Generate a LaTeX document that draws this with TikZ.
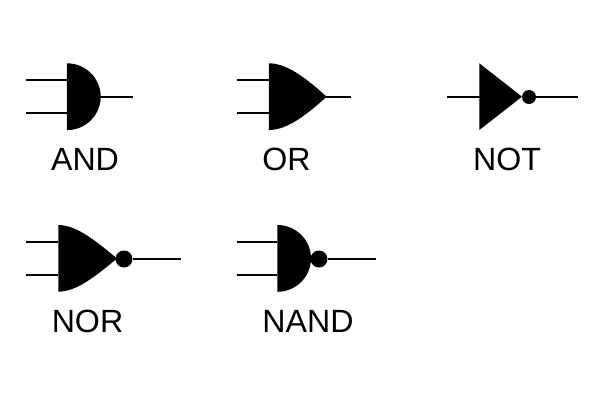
\documentclass[tikz,border=0pt]{standalone}
\usepackage{fontspec}
\setmainfont{Liberation Sans}
\tikzset{
    gate/.style={fill=black},
    wire/.style={draw, line width=0.85pt},
    bubble/.style={draw=none, fill=black, circle, inner sep=0pt},
    gatelabel/.style={anchor=base, inner sep=0pt, font=\fontsize{18.3}{20}\selectfont}
}
\begin{document}
\begin{tikzpicture}[x=0.02cm, y=-0.02cm]
    \useasboundingbox (0,0) rectangle (600,400);

    % AND
    \coordinate (AI1) at (26,80);
    \coordinate (AI2) at (26,113);
    \coordinate (AB1) at (67,80);
    \coordinate (AB2) at (67,113);
    \coordinate (AT) at (100,97);
    \coordinate (AO) at (133,97);
    \draw[wire] (AI1) -- (AB1);
    \draw[wire] (AI2) -- (AB2);
    \draw[wire] (AT) -- (AO);
    \fill[gate] (67,63.3) arc[start angle=-90, end angle=90, x radius=33.7, y radius=33.4] -- cycle;
    \node[gatelabel] (ANDL) at (85,170) {AND};

    % OR
    \coordinate (OI1) at (237,80);
    \coordinate (OI2) at (237,113);
    \coordinate (OB1) at (269,80);
    \coordinate (OB2) at (269,113);
    \coordinate (OT) at (326,97);
    \coordinate (OO) at (351,97);
    \draw[wire] (OI1) -- (OB1);
    \draw[wire] (OI2) -- (OB2);
    \draw[wire] (OT) -- (OO);
    \fill[gate] (269,63.3) .. controls (288,63.3) and (308,80) .. (326.7,96.7)
        .. controls (308,113.4) and (288,130) .. (269,130) -- cycle;
    \node[gatelabel] (ORL) at (286.5,170) {OR};

    % NOT
    \coordinate (NI) at (447,97);
    \coordinate (NB) at (480,97);
    \coordinate (NE) at (578,97);
    \node[bubble, minimum size=0.28cm] (NC) at (529,97) {};
    \draw[wire] (NI) -- (NB);
    \draw[wire] (NC) -- (NE);
    \fill[gate] (479.3,63.3) -- (522,96.7) -- (479.3,130) -- cycle;
    \node[gatelabel] (NOTL) at (507,170) {NOT};

    % NOR
    \coordinate (RI1) at (26,242);
    \coordinate (RI2) at (26,275);
    \coordinate (RB1) at (58,242);
    \coordinate (RB2) at (58,275);
    \coordinate (RE) at (181,259);
    \node[bubble, minimum size=0.34cm] (RC) at (124,259) {};
    \draw[wire] (RI1) -- (RB1);
    \draw[wire] (RI2) -- (RB2);
    \draw[wire] (RC) -- (RE);
    \fill[gate] (58.3,225) .. controls (77,225) and (97,242) .. (117,258.5)
        .. controls (97,275) and (77,291.7) .. (58.3,291.7) -- cycle;
    \node[gatelabel] (NORL) at (87.5,332) {NOR};

    % NAND
    \coordinate (DI1) at (237,242);
    \coordinate (DI2) at (237,275);
    \coordinate (DB1) at (277,242);
    \coordinate (DB2) at (277,275);
    \coordinate (DE) at (376,259);
    \node[bubble, minimum size=0.34cm] (DC) at (319,259) {};
    \draw[wire] (DI1) -- (DB1);
    \draw[wire] (DI2) -- (DB2);
    \draw[wire] (DC) -- (DE);
    \fill[gate] (277.3,225) arc[start angle=-90, end angle=90, x radius=33.7, y radius=33.4] -- cycle;
    \node[gatelabel] (NANDL) at (308,332) {NAND};
\end{tikzpicture}
\end{document}
